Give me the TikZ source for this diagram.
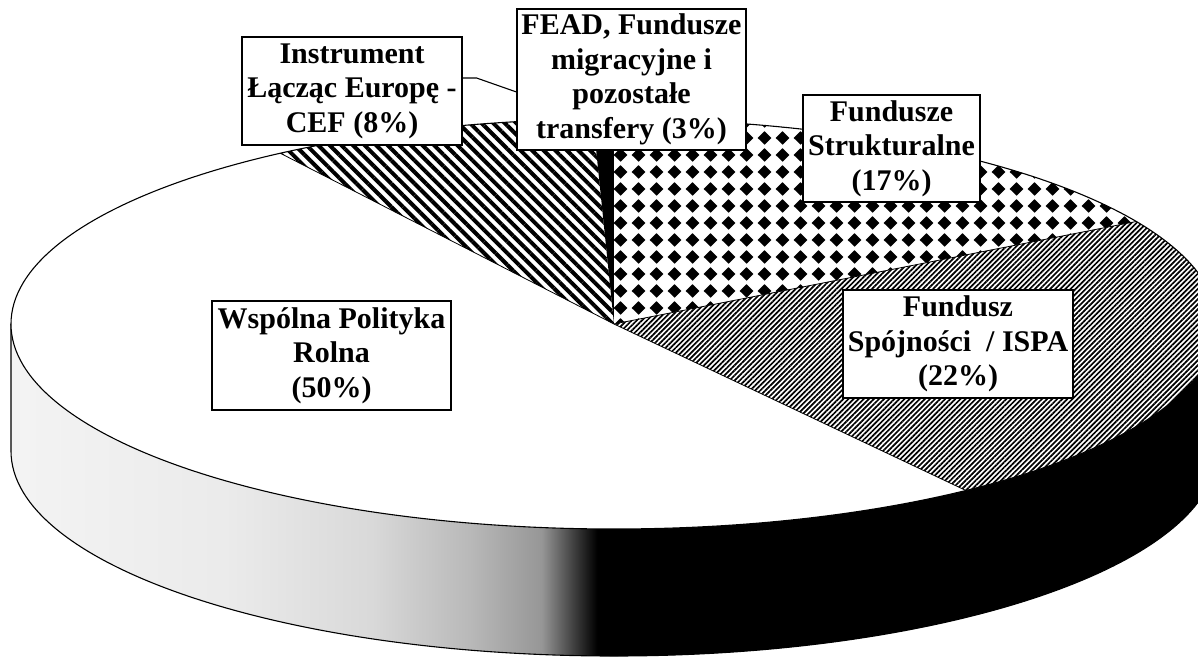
\documentclass[tikz,border=0pt]{standalone}
\usepackage{fontspec}
\setmainfont{Liberation Serif}
\usetikzlibrary{patterns,patterns.meta,calc}
\pgfdeclarehorizontalshading{sideshade}{100bp}{color(0bp)=(gray!9); color(25bp)=(gray!9); color(34bp)=(gray!16); color(40bp)=(gray!30); color(44bp)=(gray!55); color(47bp)=(gray!82); color(49.3bp)=(black); color(100bp)=(black)}
\tikzdeclarepattern{name=diamondgrid, type=uncolored,
  bottom left={(0pt,0pt)}, top right={(18pt,16.5pt)}, tile size={(18pt,16.5pt)},
  code={\fill (9pt,1.3pt) -- (16.2pt,8.25pt) -- (9pt,15.2pt) -- (1.8pt,8.25pt) -- cycle;}}
\tikzset{
  lbl/.style={draw=black, line width=1.1pt, fill=white, align=center, inner sep=0pt,
    font=\bfseries\fontsize{30}{34.5}\selectfont},
  rim/.style={draw=black, line width=1.1pt},
  cut/.style={draw=black, line width=0.8pt},
}
\begin{document}
\begin{tikzpicture}[x=1pt,y=1pt]
\useasboundingbox (0,0) rectangle (1198,662);
\fill[white] (0,0) rectangle (1198,662);
\clip (0,0) rectangle (1198,662);
\coordinate (E) at (614,338);
% side face
\shade[shading=sideshade] (E) ++(180:603 and 205) arc[start angle=180,end angle=360,x radius=603,y radius=205]
  -- ++(0,-127) arc[start angle=360,end angle=180,x radius=603,y radius=205] -- cycle;
\draw[rim] (E) ++(180:603 and 205) -- ++(0,-127) arc[start angle=180,end angle=360,x radius=603,y radius=205];
% top slices
\fill[white] (E) -- ++(123.6:603 and 205) arc[start angle=123.6,end angle=305.7,x radius=603,y radius=205] -- cycle;
\fill[white] (E) -- ++(92:603 and 205) arc[start angle=92,end angle=123.6,x radius=603,y radius=205] -- cycle;
\fill[pattern={Lines[angle=-45,distance=8.2pt,line width=4pt]},pattern color=black] (E) -- ++(92:603 and 205) arc[start angle=92,end angle=123.6,x radius=603,y radius=205] -- cycle;
\fill[black] (E) -- ++(90:603 and 205) arc[start angle=90,end angle=92,x radius=603,y radius=205] -- cycle;
\fill[white] (E) -- ++(30:603 and 205) arc[start angle=30,end angle=90,x radius=603,y radius=205] -- cycle;
\fill[pattern=diamondgrid,pattern color=black] (E) -- ++(30:603 and 205) arc[start angle=30,end angle=90,x radius=603,y radius=205] -- cycle;
\fill[white] (E) -- ++(-54.3:603 and 205) arc[start angle=-54.3,end angle=30,x radius=603,y radius=205] -- cycle;
\fill[pattern={Lines[angle=45,distance=3.6pt,line width=1.7pt]},pattern color=black] (E) -- ++(-54.3:603 and 205) arc[start angle=-54.3,end angle=30,x radius=603,y radius=205] -- cycle;
% boundaries
\draw[cut] (E) -- ++(123.6:603 and 205);
\draw[cut] (E) -- ++(30:603 and 205);
\draw[cut] (E) -- ++(-54.3:603 and 205);
\draw[rim] (E) ellipse [x radius=603, y radius=205];
% labels
\node[lbl, minimum width=220, minimum height=108] (inst) at (352,571) {Instrument\\Łącząc Europę -\\CEF (8\%)};
\node[lbl, minimum width=229, minimum height=141] (fead) at (631.5,582.5) {FEAD, Fundusze\\migracyjne i\\pozostałe\\transfery (3\%)};
\node[lbl, minimum width=177, minimum height=107] (strk) at (891.5,513.5) {Fundusze\\Strukturalne\\(17\%)};
\node[lbl, minimum width=230, minimum height=108] (spoj) at (958,318) {Fundusz\\Spójności~ / ISPA\\(22\%)};
\node[lbl, minimum width=239, minimum height=109] (wpr) at (331.5,306.5) {Wspólna Polityka\\Rolna\\(50\%)};
% leader line
\coordinate (ls) at ($(inst.east)+(0,13)$);
\coordinate (le) at ($(fead.west)+(0,-12.5)$);
\draw[line width=1.1pt] (ls) -- ++(14,0) -- (le);
\end{tikzpicture}
\end{document}
